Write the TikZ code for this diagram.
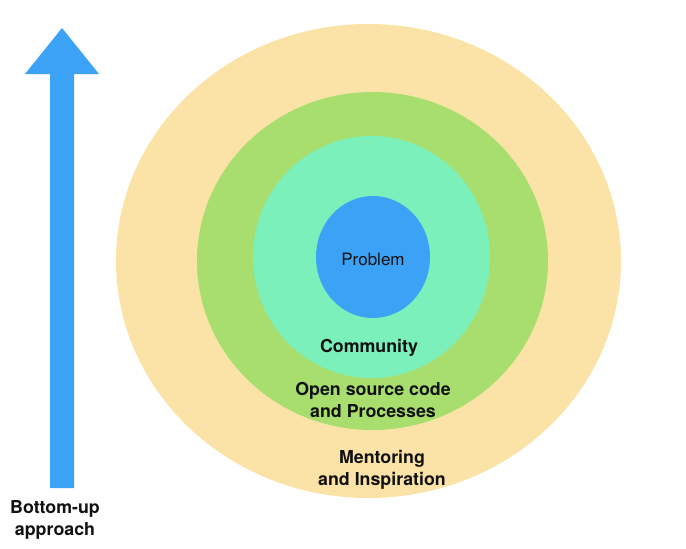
\documentclass[tikz,border=0pt]{standalone}
\usepackage{fontspec}
\setmainfont{TeX Gyre Heros}
\definecolor{ringyellow}{HTML}{FBE3A8}
\definecolor{ringgreen}{HTML}{A8DE6E}
\definecolor{ringteal}{HTML}{7BF0BA}
\definecolor{coreblue}{HTML}{3CA2F5}
\definecolor{labeltext}{HTML}{111111}
\tikzset{
  lbl/.style={text=labeltext, font=\fontsize{17.8}{22}\selectfont\bfseries, align=center, inner sep=0pt},
}
\begin{document}
\begin{tikzpicture}[x=1pt,y=-1pt]
\useasboundingbox (0,0) rectangle (686,549);
% rings
\fill[ringyellow] (368.5,261) ellipse [x radius=252.5, y radius=237];
\fill[ringgreen] (372.5,261) ellipse [x radius=175.5, y radius=169];
\fill[ringteal] (371.5,257) ellipse [x radius=118.5, y radius=121];
\fill[coreblue] (373,257) ellipse [x radius=57, y radius=61];
% arrow
\fill[coreblue] (50,488) -- (50,74) -- (25,74) -- (62,28) -- (99,74) -- (74,74) -- (74,488) -- cycle;
% labels
\node[text=labeltext, font=\fontsize{17}{19}\selectfont, inner sep=0pt] (problem) at (373,259) {Problem};
\node[lbl] (community) at (369,347.5) {Community};
\node[lbl] (osc) at (373,400) {Open source code\\and Processes};
\node[lbl] (mentor) at (382,470) {Mentoring\\and Inspiration};
\node[lbl] (bottomup) at (55,519.5) {Bottom-up\\approach};
\end{tikzpicture}
\end{document}
